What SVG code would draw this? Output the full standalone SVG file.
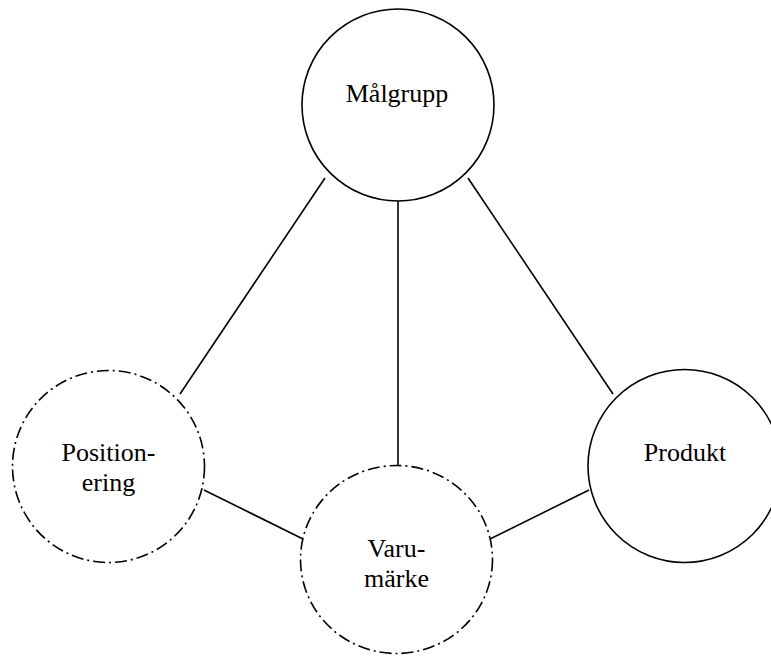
<svg xmlns="http://www.w3.org/2000/svg" width="771" height="657" viewBox="0 0 771 657">
  <style>
    .node { fill: #fff; stroke: #000; stroke-width: 1.6; }
    .dashed { stroke-dasharray: 12 4 2 4; }
    .label { font-family: "Liberation Serif", "Times New Roman", serif; font-size: 26px; fill: #000; text-anchor: middle; }
    .edge { stroke: #000; stroke-width: 1.6; fill: none; }
  </style>
  <rect width="771" height="657" fill="#fff"/>
  <g id="connectors">
    <line class="edge" x1="325" y1="178" x2="180" y2="394"/>
    <line class="edge" x1="468" y1="178" x2="613" y2="394"/>
    <line class="edge" x1="398" y1="201" x2="398" y2="466"/>
    <line class="edge" x1="204" y1="490" x2="303" y2="539"/>
    <line class="edge" x1="490" y1="539" x2="589" y2="490"/>
  </g>
  <g id="malgrupp">
    <circle class="node" cx="398" cy="105" r="96"/>
    <text class="label" x="397" y="102">Målgrupp</text>
  </g>
  <g id="positionering">
    <circle class="node dashed" cx="108.5" cy="466.5" r="96"/>
    <text class="label" x="108.5" y="461">Position-</text>
    <text class="label" x="108.5" y="491">ering</text>
  </g>
  <g id="varumarke">
    <ellipse class="node dashed" cx="396.5" cy="559.5" rx="96" ry="94"/>
    <text class="label" x="396.5" y="557">Varu-</text>
    <text class="label" x="396.5" y="587">märke</text>
  </g>
  <g id="produkt">
    <circle class="node" cx="684.5" cy="466" r="96.5"/>
    <text class="label" x="685" y="461">Produkt</text>
  </g>
</svg>
